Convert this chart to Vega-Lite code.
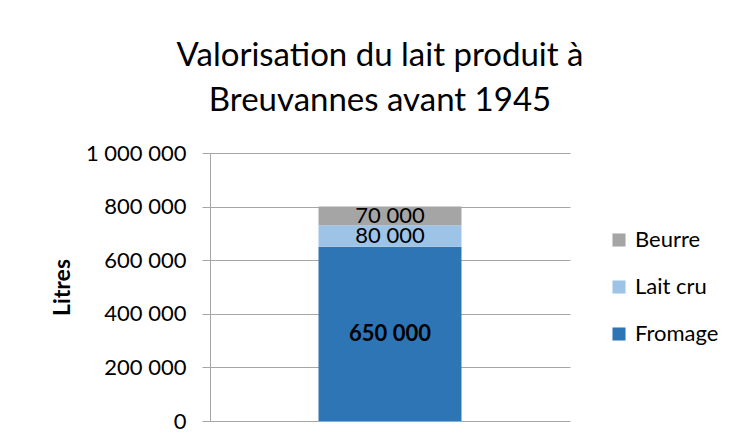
{
  "$schema": "https://vega.github.io/schema/vega-lite/v6.json",
  "width": 360,
  "height": 268,
  "autosize": {"type": "none"},
  "padding": {"left": 210, "top": 153, "right": 170, "bottom": 20},
  "background": "white",
  "title": {
    "text": ["Valorisation du lait produit à", "Breuvannes avant 1945"],
    "fontSize": 33,
    "fontWeight": "normal",
    "font": "Lato",
    "color": "#000000",
    "anchor": "middle",
    "frame": "group",
    "dx": -10,
    "offset": 24,
    "lineHeight": 45
  },
  "config": {
    "locale": {"number": {"decimal": ",", "thousands": " ", "grouping": [3], "currency": ["", " €"]}},
    "view": {"stroke": null},
    "font": "Lato"
  },
  "data": {
    "values": [
      {"categorie": "Breuvannes", "serie": "Fromage", "rang": 1, "litres": 650000},
      {"categorie": "Breuvannes", "serie": "Lait cru", "rang": 2, "litres": 80000},
      {"categorie": "Breuvannes", "serie": "Beurre", "rang": 3, "litres": 70000}
    ]
  },
  "transform": [
    {"stack": "litres", "groupby": ["categorie"], "sort": [{"field": "rang", "order": "ascending"}], "as": ["y0", "y1"]},
    {"calculate": "(datum.y0 + datum.y1) / 2", "as": "ymid"}
  ],
  "encoding": {
    "x": {"field": "categorie", "type": "nominal", "axis": null, "scale": {"paddingInner": 0, "paddingOuter": 0.759}}
  },
  "layer": [
    {
      "mark": {"type": "bar"},
      "encoding": {
        "y": {
          "field": "y0", "type": "quantitative",
          "scale": {"domain": [0, 1000000]},
          "axis": {
            "title": "Litres",
            "titleFontSize": 23,
            "titleFontWeight": "bold",
            "titleColor": "#000000",
            "titleX": -148,
            "titleY": 134,
            "titleAngle": -90,
            "titleAlign": "center",
            "titleBaseline": "middle",
            "values": [0, 200000, 400000, 600000, 800000, 1000000],
            "format": ",d",
            "labelFontSize": 22,
            "labelColor": "#000000",
            "labelPadding": 16,
            "tickSize": 8,
            "tickColor": "#A6A6A6",
            "domainColor": "#A6A6A6",
            "gridColor": "#A6A6A6",
            "grid": true
          }
        },
        "y2": {"field": "y1"},
        "color": {
          "field": "serie", "type": "nominal",
          "scale": {"domain": ["Beurre", "Lait cru", "Fromage"], "range": ["#A5A5A5", "#9DC3E6", "#2E75B6"]},
          "legend": {
            "title": null,
            "orient": "none",
            "legendX": 398,
            "legendY": 76,
            "symbolType": "square",
            "symbolSize": 170,
            "symbolStrokeWidth": 0,
            "labelFontSize": 22,
            "labelColor": "#000000",
            "rowPadding": 25,
            "labelOffset": 5
          }
        }
      }
    },
    {
      "transform": [{"filter": "datum.serie !== 'Fromage'"}],
      "mark": {"type": "text", "fontSize": 22, "color": "#000000", "baseline": "middle", "align": "center"},
      "encoding": {
        "y": {"field": "ymid", "type": "quantitative"},
        "text": {"field": "litres", "type": "quantitative", "format": ",d"}
      }
    },
    {
      "transform": [{"filter": "datum.serie === 'Fromage'"}],
      "mark": {"type": "text", "fontSize": 22, "fontWeight": "bold", "color": "#000000", "baseline": "middle", "align": "center"},
      "encoding": {
        "y": {"field": "ymid", "type": "quantitative"},
        "text": {"field": "litres", "type": "quantitative", "format": ",d"}
      }
    }
  ]
}
